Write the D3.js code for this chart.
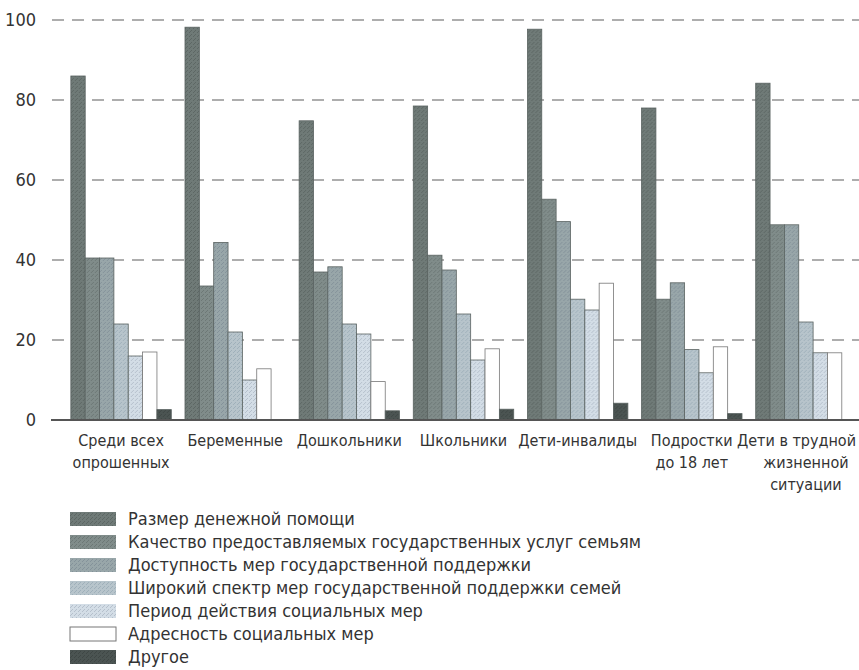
<!DOCTYPE html>
<html>
<head>
<meta charset="utf-8">
<script src="https://cdn.jsdelivr.net/npm/d3@7"></script>
<style>
  body { margin: 0; background: #fff; }
  svg text { font-family: 'DejaVu Sans Condensed', 'Liberation Sans Narrow', sans-serif; fill: #333; }
</style>
</head>
<body>
<div id="chart"></div>
<script>
const categories = [
    ['Среди всех', 'опрошенных'],
    ['Беременные'],
    ['Дошкольники'],
    ['Школьники'],
    ['Дети-инвалиды'],
    ['Подростки', 'до 18 лет'],
    ['Дети в трудной', 'жизненной', 'ситуации']
];

const seriesNames = [
    'Размер денежной помощи',
    'Качество предоставляемых государственных услуг семьям',
    'Доступность мер государственной поддержки',
    'Широкий спектр мер государственной поддержки семей',
    'Период действия социальных мер',
    'Адресность социальных мер',
    'Другое'
];

// values per series, one per category
const cashSize      = [86, 98.2, 74.8, 78.5, 97.7, 78, 84.2];
const serviceQual   = [40.5, 33.5, 37, 41.2, 55.2, 30.2, 48.8];
const accessibility = [40.5, 44.4, 38.3, 37.5, 49.6, 34.3, 48.8];
const wideRange     = [24, 22, 24, 26.5, 30.2, 17.6, 24.5];
const period        = [16, 10, 21.5, 15, 27.5, 11.8, 16.8];
const targeting     = [17, 12.8, 9.6, 17.8, 34.2, 18.3, 16.8];
const other         = [2.6, 0, 2.3, 2.7, 4.2, 1.6, 0];

const yTicks = [0, 20, 40, 60, 80, 100];

const seriesValues = [cashSize, serviceQual, accessibility, wideRange, period, targeting, other];
const fills = ['#6f7a77', '#808c8a', '#98a6a9', '#b7c4cb', '#d3dde6', '#ffffff', '#4b5452'];
const specks = ['#5d6764', '#6d7876', '#84929a', '#9fb0ba', '#b5c0cc', '#ffffff', '#3f4745'];

const W = 859, H = 670;
const svg = d3.select('#chart').append('svg')
    .attr('width', W).attr('height', H);

// halftone-like textures
const defs = svg.append('defs');
fills.forEach((c, i) => {
    const p = defs.append('pattern')
        .attr('id', 'tex' + i)
        .attr('width', 4).attr('height', 4)
        .attr('patternUnits', 'userSpaceOnUse');
    p.append('rect').attr('width', 4).attr('height', 4).attr('fill', c);
    if (i !== 5) {
        p.append('rect').attr('x', 0).attr('y', 0).attr('width', 1).attr('height', 1).attr('fill', specks[i]);
        p.append('rect').attr('x', 2).attr('y', 2).attr('width', 1).attr('height', 1).attr('fill', specks[i]);
        p.append('rect').attr('x', 1).attr('y', 3).attr('width', 1).attr('height', 1).attr('fill', specks[i]);
    }
});

const y = d3.scaleLinear().domain([0, 100]).range([420, 20]);
const x0 = d3.scaleBand()
    .domain(d3.range(categories.length))
    .range([64, 863])
    .paddingInner(0.12)
    .paddingOuter(0.06);
const x1 = d3.scaleBand()
    .domain(d3.range(seriesNames.length))
    .range([0, x0.bandwidth()]);

// grid lines
svg.append('g').selectAll('line')
    .data(yTicks.filter(d => d > 0))
    .enter().append('line')
    .attr('x1', 52).attr('x2', W)
    .attr('y1', d => y(d)).attr('y2', d => y(d))
    .attr('stroke', '#5c5c5c')
    .attr('stroke-width', 1.2)
    .attr('stroke-dasharray', '12,8');

// y labels
svg.append('g').selectAll('text')
    .data(yTicks)
    .enter().append('text')
    .attr('x', 36)
    .attr('y', d => y(d))
    .attr('dy', '0.35em')
    .attr('text-anchor', 'end')
    .attr('font-size', 18)
    .text(d => d);

// bars
const groups = svg.append('g').selectAll('g')
    .data(categories)
    .enter().append('g')
    .attr('transform', (d, i) => `translate(${x0(i)},0)`);

groups.selectAll('rect')
    .data((d, ci) => seriesValues.map((vals, si) => ({ si: si, v: vals[ci] })))
    .enter().append('rect')
    .filter(d => d.v > 0)
    .attr('x', d => x1(d.si))
    .attr('y', d => y(d.v))
    .attr('width', x1.bandwidth())
    .attr('height', d => y(0) - y(d.v))
    .attr('fill', d => `url(#tex${d.si})`)
    .attr('stroke', d => d.si === 5 ? '#777' : '#5a6361')
    .attr('stroke-width', 0.8);

// baseline
svg.append('line')
    .attr('x1', 51).attr('x2', W)
    .attr('y1', y(0)).attr('y2', y(0))
    .attr('stroke', '#555')
    .attr('stroke-width', 2);

// category labels
groups.append('text')
    .attr('text-anchor', 'middle')
    .attr('font-size', 16)
    .selectAll('tspan')
    .data(d => d)
    .enter().append('tspan')
    .attr('x', x0.bandwidth() / 2)
    .attr('y', (d, i) => 446 + i * 22)
    .text(d => d);

// keep labels inside the right edge
groups.each(function (d, i) {
    d3.select(this).selectAll('tspan').each(function () {
        const w = this.getComputedTextLength();
        const right = x0(i) + x0.bandwidth() / 2 + w / 2;
        if (right > W - 3) d3.select(this).attr('x', x0.bandwidth() / 2 - (right - (W - 3)));
    });
});

// legend
const legend = svg.append('g').selectAll('g')
    .data(seriesNames)
    .enter().append('g')
    .attr('transform', (d, i) => `translate(70,${519 + i * 23})`);

legend.append('rect')
    .attr('x', 0).attr('y', -7)
    .attr('width', 46).attr('height', 14)
    .attr('fill', (d, i) => `url(#tex${i})`)
    .attr('stroke', (d, i) => i === 5 ? '#777' : 'none')
    .attr('stroke-width', 1);

legend.append('text')
    .attr('x', 58)
    .attr('dy', '0.35em')
    .attr('font-size', 18)
    .text(d => d);
</script>
</body>
</html>
